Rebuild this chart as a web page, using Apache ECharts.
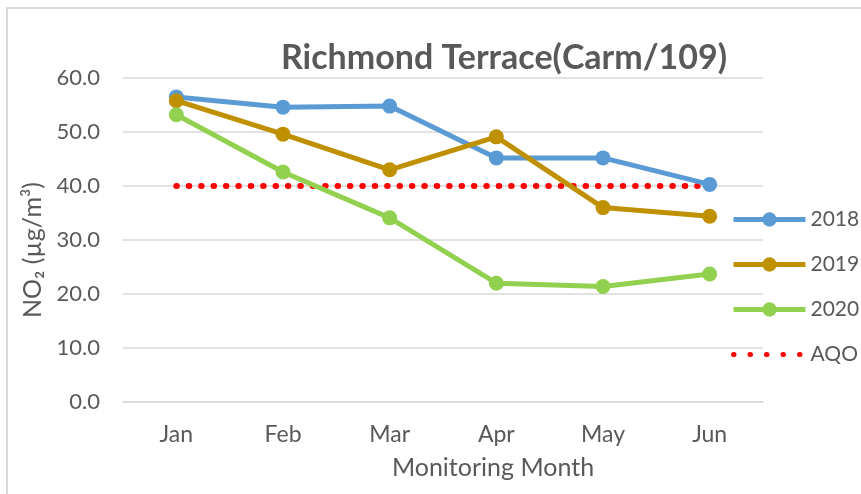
<!DOCTYPE html>
<html lang="en">
<head>
    <meta charset="UTF-8">
    <title>Richmond Terrace</title>
    <script src="https://cdn.jsdelivr.net/npm/echarts@6/dist/echarts.min.js"></script>
    <style>
        html, body { margin: 0; padding: 0; background: #fff; overflow: hidden; }
        #frame { position: absolute; left: 6px; top: 7px; width: 900px; height: 540px;
                 border: 2px solid #d9d9d9; box-sizing: border-box; }
        #main { position: absolute; left: 0; top: 0; width: 861px; height: 494px; }
    </style>
</head>
<body>
<div id="frame"></div>
<div id="main"></div>
<script>
    // 数据
    var months = ['Jan', 'Feb', 'Mar', 'Apr', 'May', 'Jun']
    var no2_2018 = [56.5, 54.6, 54.8, 45.2, 45.2, 40.3]
    var no2_2019 = [55.8, 49.6, 43.0, 49.1, 36.0, 34.4]
    var no2_2020 = [53.2, 42.6, 34.1, 22.0, 21.4, 23.7]
    var aqo = [40, 40, 40, 40, 40, 40]
    var yTicks = [0, 10, 20, 30, 40, 50, 60]

    var font = 'Lato, "Open Sans", sans-serif'
    var grey = '#595959'

    function yearLine(name, data, color) {
        return {
            name: name,
            type: 'line',
            data: data,
            symbol: 'circle',
            symbolSize: 15,
            lineStyle: { color: color, width: 5 },
            itemStyle: { color: color },
            z: 3
        }
    }

    var myChart = echarts.init(document.getElementById('main'))
    var option = {
        backgroundColor: 'transparent',
        animation: false,
        textStyle: { fontFamily: font },
        title: {
            text: '{b|Richmond Terrace}{n|(}{b|Carm/109}{n|)}',
            left: 499,
            textAlign: 'center',
            top: 36,
            textStyle: {
                rich: {
                    b: { fontFamily: font, fontSize: 34, fontWeight: 'bold', color: grey },
                    n: { fontFamily: font, fontSize: 34, color: grey }
                }
            }
        },
        legend: {
            orient: 'vertical',
            left: 731,
            top: 209,
            padding: 0,
            itemWidth: 72,
            itemHeight: 18,
            itemGap: 24,
            lineStyle: { width: 5 },
            textStyle: { fontFamily: font, fontSize: 21, color: grey },
            data: ['2018', '2019', '2020', {
                name: 'AQO',
                itemStyle: { color: 'rgba(0,0,0,0)', borderWidth: 0 },
                lineStyle: { color: '#FF0000', width: 5, type: [0.5, 16], cap: 'round' }
            }]
        },
        grid: { left: 123, right: 98, top: 78, bottom: 92 },
        xAxis: {
            type: 'category',
            data: months,
            boundaryGap: true,
            name: 'Monitoring Month',
            nameLocation: 'middle',
            nameGap: 53,
            nameTextStyle: { fontFamily: font, fontSize: 25, color: grey, padding: [0, 0, 0, 100] },
            axisLine: { lineStyle: { color: '#d9d9d9', width: 1.5 } },
            axisTick: { show: false },
            axisLabel: { fontFamily: font, fontSize: 23, color: grey, margin: 21 }
        },
        yAxis: {
            type: 'value',
            min: yTicks[0],
            max: yTicks[yTicks.length - 1],
            interval: 10,
            name: 'NO₂ (µg/m³)',
            nameLocation: 'middle',
            nameRotate: 90,
            nameGap: 68,
            nameTextStyle: { fontFamily: font, fontSize: 25, color: grey, padding: [0, 20, 0, 0] },
            axisLine: { show: false },
            axisTick: { show: false },
            axisLabel: {
                fontFamily: font, fontSize: 22, color: grey, margin: 23,
                formatter: function (v) { return v.toFixed(1) }
            },
            splitLine: { lineStyle: { color: '#d9d9d9', width: 1.5 } }
        },
        series: [
            yearLine('2018', no2_2018, '#5B9BD5'),
            yearLine('2019', no2_2019, '#BF9000'),
            yearLine('2020', no2_2020, '#92D050'),
            {
                name: 'AQO',
                type: 'line',
                data: aqo,
                symbol: 'none',
                lineStyle: { color: '#FF0000', width: 6, type: [0.5, 11.9], cap: 'round' },
                itemStyle: { color: '#FF0000' },
                z: 2
            }
        ]
    }
    myChart.setOption(option)
</script>
</body>
</html>
